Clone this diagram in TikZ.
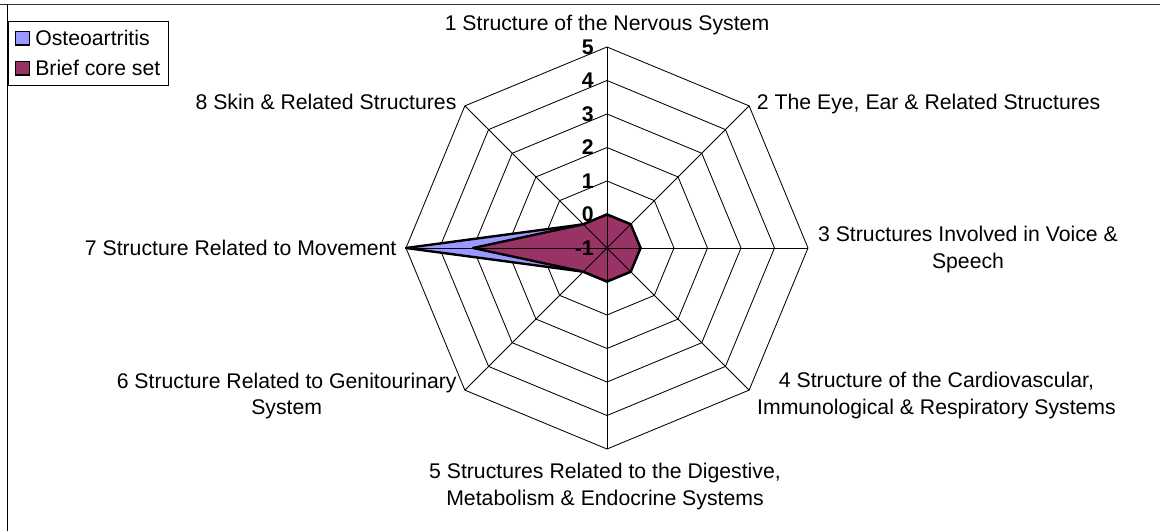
\documentclass[tikz,border=0pt]{standalone}
\usepackage{fontspec}
\setmainfont{Liberation Sans}
\usepackage{tikz}
\usepackage{xcolor}
\definecolor{osteoblue}{HTML}{9999FF}
\definecolor{coreplum}{HTML}{993366}
\definecolor{framegray}{HTML}{333333}

\begin{document}
\begin{tikzpicture}[
    gridline/.style={line width=0.6pt},
    series/.style={draw=black,line width=1.7pt,line join=round},
    axislabel/.style={inner sep=0pt,align=center,font=\fontsize{15.1pt}{18.9pt}\selectfont},
    scalelabel/.style={anchor=east,inner sep=0pt,font=\fontsize{15.1pt}{18.9pt}\selectfont\bfseries}]
        \useasboundingbox (-15.175,-7.075) rectangle (13.825,6.2);
        \draw[framegray,line width=1.4pt] (-15.175,6.0875) -- (13.825,6.0875);
        \draw[line width=1.1pt] (-14.99,6.0875) -- (-14.99,-7.075);
        % rings
        \draw[gridline] (90:0.8375) -- (45:0.8375) -- (0:0.8375) -- (-45:0.8375) -- (-90:0.8375) -- (-135:0.8375) -- (180:0.8375) -- (135:0.8375) -- cycle;
        \draw[gridline] (90:1.675) -- (45:1.675) -- (0:1.675) -- (-45:1.675) -- (-90:1.675) -- (-135:1.675) -- (180:1.675) -- (135:1.675) -- cycle;
        \draw[gridline] (90:2.5125) -- (45:2.5125) -- (0:2.5125) -- (-45:2.5125) -- (-90:2.5125) -- (-135:2.5125) -- (180:2.5125) -- (135:2.5125) -- cycle;
        \draw[gridline] (90:3.35) -- (45:3.35) -- (0:3.35) -- (-45:3.35) -- (-90:3.35) -- (-135:3.35) -- (180:3.35) -- (135:3.35) -- cycle;
        \draw[gridline] (90:4.1875) -- (45:4.1875) -- (0:4.1875) -- (-45:4.1875) -- (-90:4.1875) -- (-135:4.1875) -- (180:4.1875) -- (135:4.1875) -- cycle;
        \draw[gridline] (90:5.025) -- (45:5.025) -- (0:5.025) -- (-45:5.025) -- (-90:5.025) -- (-135:5.025) -- (180:5.025) -- (135:5.025) -- cycle;
        % data
        \filldraw[fill=osteoblue,series] (90:0.8375) -- (45:0.8375) -- (0:0.8375) -- (-45:0.8375) -- (-90:0.8375) -- (-135:0.8375) -- (180:5.025) -- (135:0.8375) -- cycle;
        \filldraw[fill=coreplum,series] (90:0.8375) -- (45:0.8375) -- (0:0.8375) -- (-45:0.8375) -- (-90:0.8375) -- (-135:0.8375) -- (180:3.35) -- (135:0.8375) -- cycle;
        % spokes
        \draw[gridline] (90:5.025) -- (-90:5.025);
        \draw[gridline] (45:5.025) -- (-135:5.025);
        \draw[gridline] (0:5.025) -- (180:5.025);
        \draw[gridline] (-45:5.025) -- (135:5.025);
        \node[scalelabel] (s5) at (-0.325,5.025) {5};
        \node[scalelabel] (s4) at (-0.325,4.1875) {4};
        \node[scalelabel] (s3) at (-0.325,3.35) {3};
        \node[scalelabel] (s2) at (-0.325,2.5125) {2};
        \node[scalelabel] (s1) at (-0.325,1.675) {1};
        \node[scalelabel] (s0) at (-0.325,0.8375) {0};
        \node[scalelabel] (sm1) at (-0.325,0) {-1};
        \node[axislabel,anchor=base] (nervous) at (0,5.4325) {1 Structure of the Nervous System};
        \node[axislabel,anchor=base west] (eye) at (3.7425,3.4675) {2 The Eye, Ear \& Related Structures};
        \node[axislabel,anchor=base] (voice) at (9.025,-0.5075) {3 Structures Involved in Voice \&\\Speech};
        \node[axislabel,anchor=base] (cardio) at (8.2375,-4.1575) {4 Structure of the Cardiovascular,\\Immunological \& Respiratory Systems};
        \node[axislabel,anchor=base] (digest) at (-0.05,-6.425) {5 Structures Related to the Digestive,\\Metabolism \& Endocrine Systems};
        \node[axislabel,anchor=base] (genito) at (-8.0075,-4.17) {6 Structure Related to Genitourinary\\System};
        \node[axislabel,anchor=base east] (movement) at (-5.2575,-0.175) {7 Structure Related to Movement};
        \node[axislabel,anchor=base east] (skin) at (-3.7575,3.4675) {8 Skin \& Related Structures};
        % legend
        \draw[line width=0.6pt] (-14.975,4.075) rectangle (-10.975,5.6575);
        \filldraw[fill=osteoblue,line width=1pt] (-14.7825,5.0725) rectangle (-14.4425,5.4125);
        \filldraw[fill=coreplum,line width=1pt] (-14.7825,4.3225) rectangle (-14.4425,4.6625);
        \node[axislabel,anchor=base west] (osteo) at (-14.3,5.05) {Osteoartritis};
        \node[axislabel,anchor=base west] (brief) at (-14.3,4.3) {Brief core set};
    \end{tikzpicture}
\end{document}
